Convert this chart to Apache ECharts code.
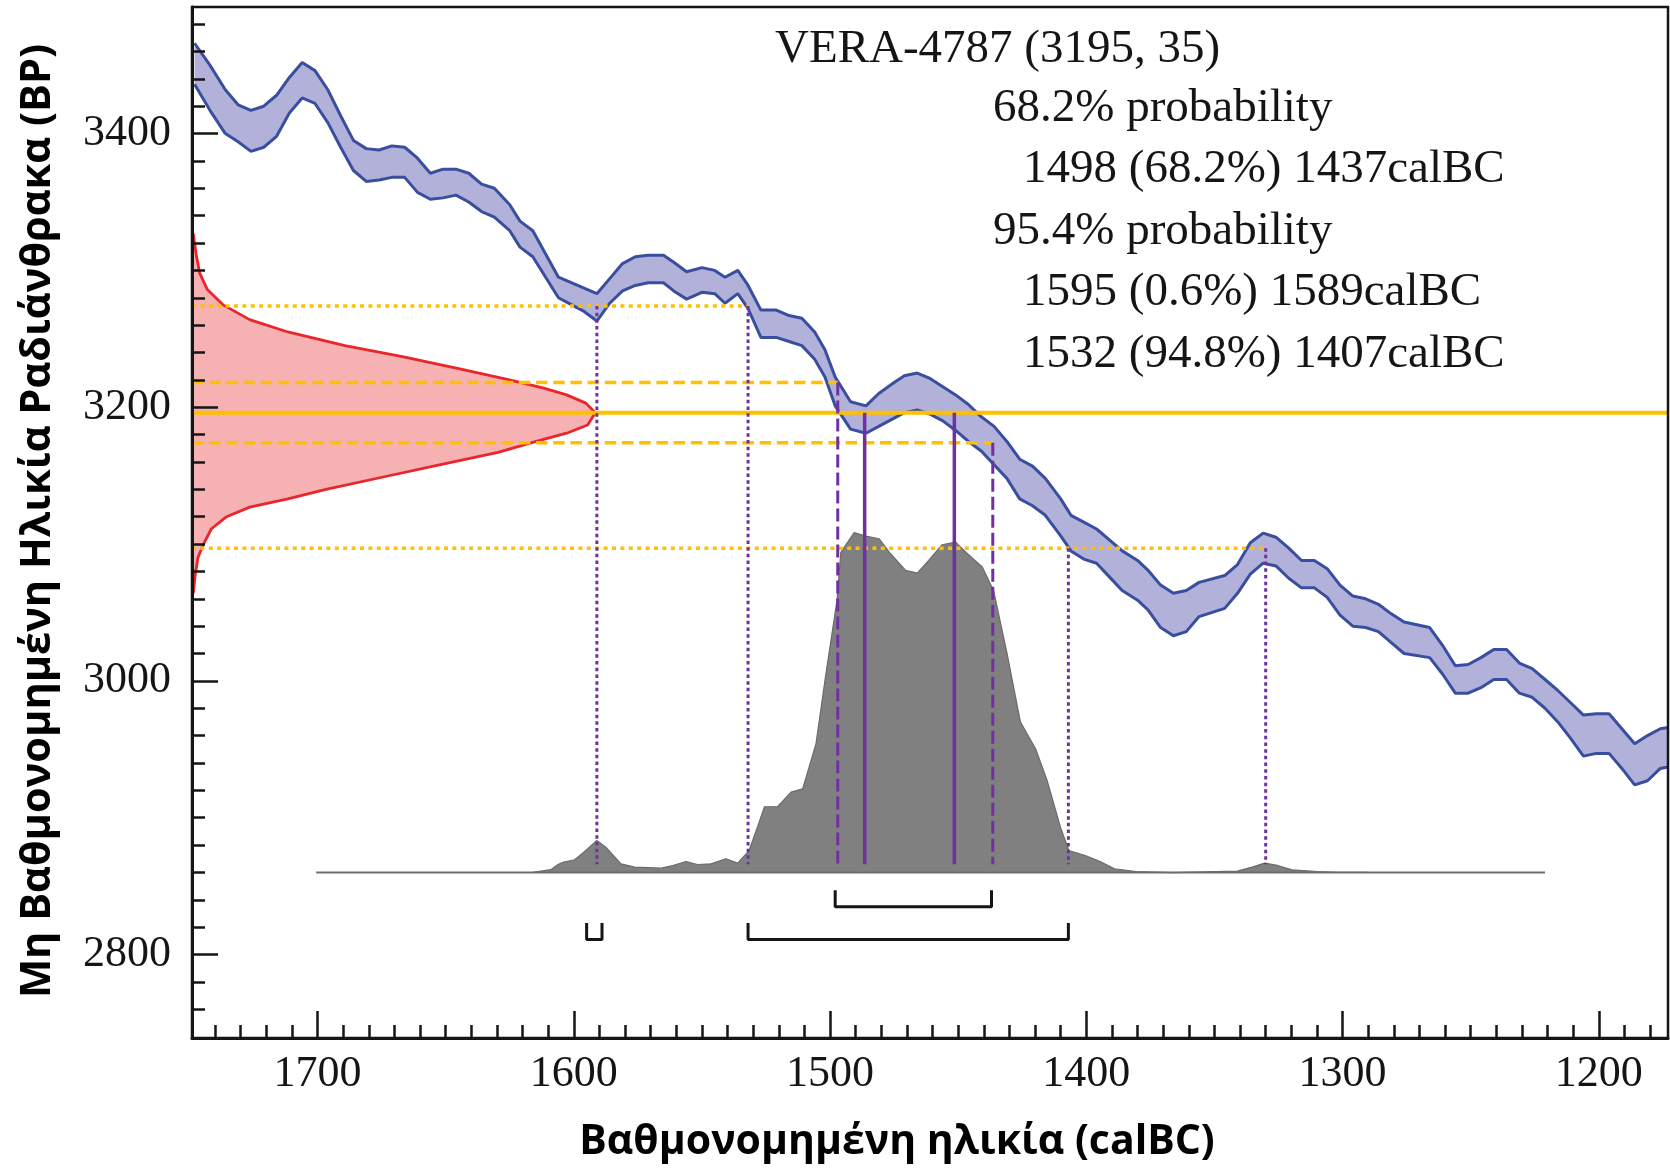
<!DOCTYPE html>
<html><head><meta charset="utf-8">
<script src="https://cdn.jsdelivr.net/npm/echarts@6/dist/echarts.min.js"></script>
<style>html,body{margin:0;padding:0;background:#fff}#c{width:1670px;height:1168px}</style>
</head><body><div id="c"></div>
<script>
// ---- calibration curve (IntCal band), calBC vs BP ----
const calYears = [1748,1742,1736,1731,1726,1721,1716,1711,1706,1701,1696,1691,1686,1681,1676,1671,1666,1661,1656,1651,1646,1641,1636,1631,1625,1621,1616,1611,1606,1601,1596,1591,1586,1581,1576,1571,1565,1561,1556,1550,1545,1541,1536,1532,1527,1521,1516,1511,1506,1502,1498,1492,1486,1481,1475,1471,1466,1461,1456,1451,1446,1441,1436,1431,1426,1421,1416,1410,1406,1401,1396,1391,1386,1380,1376,1371,1366,1361,1356,1346,1341,1336,1331,1326,1321,1316,1311,1306,1301,1296,1291,1286,1281,1276,1266,1261,1256,1251,1246,1241,1236,1231,1226,1221,1216,1211,1206,1201,1196,1191,1186,1181,1176,1173];
const curveUpper = [3466,3450,3432,3421,3417,3420,3428,3441,3452,3446,3432,3413,3395,3389,3388,3391,3390,3382,3371,3374,3374,3371,3363,3360,3348,3336,3329,3312,3295,3291,3287,3283,3294,3305,3310,3311,3311,3306,3299,3302,3300,3295,3300,3289,3271,3271,3267,3265,3255,3242,3222,3204,3201,3210,3218,3223,3225,3221,3215,3209,3202,3193,3186,3175,3162,3157,3148,3133,3121,3116,3111,3103,3095,3088,3081,3070,3064,3066,3072,3077,3085,3101,3108,3105,3097,3088,3088,3082,3070,3062,3060,3056,3049,3043,3039,3026,3011,3012,3017,3023,3023,3013,3009,3001,2993,2984,2975,2976,2976,2965,2954,2960,2965,2966];
const curveLower = [3436,3417,3400,3394,3387,3390,3398,3415,3426,3422,3408,3390,3373,3365,3366,3368,3368,3357,3352,3353,3355,3350,3343,3339,3329,3317,3310,3295,3280,3275,3270,3263,3276,3285,3289,3291,3291,3285,3279,3284,3283,3276,3283,3272,3251,3251,3248,3245,3235,3222,3201,3184,3181,3186,3192,3196,3198,3195,3190,3183,3175,3168,3158,3148,3133,3128,3121,3106,3095,3089,3086,3076,3066,3059,3052,3039,3033,3036,3047,3053,3064,3078,3086,3084,3075,3068,3068,3061,3048,3040,3039,3036,3028,3020,3017,3005,2991,2991,2995,3001,3001,2991,2988,2980,2970,2958,2945,2947,2947,2936,2924,2927,2936,2937];

// ---- radiocarbon measurement distribution (red) : x = calBC-scale extent, y = BP ----
const distYear = [1748.5,1747.4,1746,1743,1737,1726.5,1711.6,1689.3,1666.9,1644.5,1625.1,1611.7,1602.8,1595.3,1591.6,1594.6,1602.8,1614.7,1629.6,1652,1674.4,1696.7,1711.6,1726.5,1735.5,1741.5,1744.5,1746.7,1747.7,1748.5];
const distBP   = [3327,3312,3298,3286,3275,3264,3255,3245,3237,3228,3220,3214,3209,3203,3196,3187,3181,3175,3167,3158,3149,3140,3133,3127,3120,3111,3100,3090,3078,3064];

// ---- calibrated probability distribution (grey) ----
const postYear = [1616,1609,1606,1604,1601,1599.8,1596,1591,1587.5,1581.6,1576.3,1565.9,1561.4,1556.2,1551.7,1546.5,1540.6,1536.1,1531.6,1527.9,1525.6,1520.4,1515.2,1510.7,1505.5,1501.8,1497.3,1495.8,1490.6,1486.1,1480.9,1476.4,1470.5,1466,1461.5,1456.3,1451,1446.6,1440.6,1436.2,1430.9,1425.7,1419.8,1415.3,1410.1,1406.8,1400.4,1394.6,1389,1380.6,1366.5,1341,1335.3,1330.4,1325.4,1319.7,1309.8,1301.3,1290];
const postBP   = [2860,2862,2866,2867.5,2868.7,2869.2,2875,2883.4,2878.5,2866.3,2863.9,2863.1,2865.1,2868,2865.8,2866.3,2870,2866.8,2876,2895.5,2908,2908.2,2918.7,2921.1,2954,3002.8,3058.8,3094,3108.3,3105.8,3103.9,3092.9,3080.7,3078.8,3088,3099.5,3101.4,3093.4,3083.2,3066.1,3019.8,2969.9,2950.4,2927.2,2893.1,2876,2872.4,2868,2862.6,2860.7,2859.8,2861,2863.9,2866.8,2865.1,2861.9,2860.7,2860,2860];
const postBaselineBP = 2860;
const postBaselineYears = [1700.5, 1221];

// ---- reference levels (BP) and intersections (calBC) ----
const measuredBP = 3196;
const sigma1BP = [3218, 3174];        // dashed
const sigma1Years = [1497, 1436.5];
const sigma2BP = [3274, 3097];        // dotted
const sigma2Years = [[1591, 1532], [1407, 1330]];
const peakYears = [1486.5, 1451.5];   // solid verticals
const verticalBottomBP = 2866;

// ---- ranges (brackets) ----
const range68 = [[1498, 1437]];
const range95 = [[1595, 1589], [1532, 1407]];
const bracket68BP = [2835, 2847];
const bracket95BP = [2811, 2823];

// ---- axes ----
const xMin = 1173, xMax = 1749, yMin = 2739, yMax = 3492.5;
const xMajorTicks = [1200, 1300, 1400, 1500, 1600, 1700];
const xMinorTicks = [1180,1190,1210,1220,1230,1240,1250,1260,1270,1280,1290,1310,1320,1330,1340,1350,1360,1370,1380,1390,1410,1420,1430,1440,1450,1460,1470,1480,1490,1510,1520,1530,1540,1550,1560,1570,1580,1590,1610,1620,1630,1640,1650,1660,1670,1680,1690,1710,1720,1730,1740];
const yMajorTicks = [2800, 3000, 3200, 3400];
const yMinorTicks = [2760,2780,2820,2840,2860,2880,2900,2920,2940,2960,2980,3020,3040,3060,3080,3100,3120,3140,3160,3180,3220,3240,3260,3280,3300,3320,3340,3360,3380,3420,3440,3460,3480];

const annotLines = ['VERA-4787 (3195, 35)', '68.2% probability', '1498 (68.2%) 1437calBC', '95.4% probability', '1595 (0.6%) 1589calBC', '1532 (94.8%) 1407calBC'];
const xTitle = 'Βαθμονομημένη ηλικία (calBC)';
const yTitle = 'Μη Βαθμονομημένη Ηλικία Ραδιάνθρακα (BP)';

// ---------------------------------------------------------------
const C = {
  bandFill: '#b1b1da', bandLine: '#3a4ea0', red: '#e8262b', pink: '#f6b1b3',
  yellow: '#ffc000', purple: '#7030a0', grey: '#808080', greyLine: '#5c5c5c', ink: '#151515'
};
const zip = (xs, ys) => xs.map((x, i) => [x, ys[i]]);
const lineS = (name, pts, color, width, type, z) => ({
  type: 'line', name, data: pts, symbol: 'none', silent: true, animation: false, z,
  lineStyle: { color, width, type, cap: 'butt' }, xAxisIndex: 0, yAxisIndex: 0
});
const polyS = (name, xs, ys, fill, z) => ({
  type: 'custom', name, coordinateSystem: 'cartesian2d', silent: true, animation: false, z,
  xAxisIndex: 0, yAxisIndex: 0,
  data: [[xs[0], ys[0]]],
  renderItem: (params, api) => ({
    type: 'polygon',
    shape: { points: xs.map((x, i) => api.coord([x, ys[i]])) },
    style: { fill: fill }
  })
});

const series = [];
// band
series.push(polyS('band', calYears.concat(calYears.slice().reverse()), curveUpper.concat(curveLower.slice().reverse()), C.bandFill, 1));
series.push(lineS('upper', zip(calYears, curveUpper), C.bandLine, 3, 'solid', 2));
series.push(lineS('lower', zip(calYears, curveLower), C.bandLine, 3, 'solid', 2));
// red distribution
series.push(polyS('distFill', distYear, distBP, C.pink, 1));
series.push(lineS('dist', zip(distYear, distBP), C.red, 2.8, 'solid', 2));
// grey posterior
series.push(polyS('postFill', postYear, postBP, C.grey, 1));
series.push(lineS('post', zip(postYear, postBP), '#6a6a6a', 1.2, 'solid', 2));
series.push(lineS('baseline', postBaselineYears.map(y => [y, postBaselineBP]), '#6e6e6e', 2, 'solid', 2));
// yellow horizontals
series.push(lineS('measured', [[xMax, measuredBP], [xMin, measuredBP]], C.yellow, 4, 'solid', 3));
sigma1BP.forEach((bp, i) => series.push(lineS('s1h' + i, [[xMax, bp], [sigma1Years[i], bp]], C.yellow, 3.5, [11.5, 5.7], 3)));
sigma2BP.forEach((bp, i) => series.push(lineS('s2h' + i, [[xMax, bp], [sigma2Years[i][1], bp]], C.yellow, 3.5, [4, 4.4], 3)));
// purple verticals
sigma1Years.forEach((yr, i) => series.push(lineS('s1v' + i, [[yr, sigma1BP[i]], [yr, verticalBottomBP]], C.purple, 3, [13, 5], 4)));
sigma2Years.forEach((pair, i) => pair.forEach((yr, j) => series.push(lineS('s2v' + i + j, [[yr, sigma2BP[i]], [yr, verticalBottomBP]], C.purple, 3, [3.5, 3.2], 4))));
peakYears.forEach((yr, i) => series.push(lineS('pk' + i, [[yr, measuredBP], [yr, verticalBottomBP]], C.purple, 3.5, 'solid', 4)));
// brackets
const bracket = (r, lv) => [[r[0], lv[1]], [r[0], lv[0]], [r[1], lv[0]], [r[1], lv[1]]];
range68.forEach((r, i) => series.push(lineS('r68' + i, bracket(r, bracket68BP), C.ink, 3, 'solid', 4)));
range95.forEach((r, i) => series.push(lineS('r95' + i, bracket(r, bracket95BP), C.ink, 3, 'solid', 4)));

const serif = '"Liberation Serif", "Times New Roman", serif';
const axisLineStyle = { color: C.ink, width: 3 };
const tickStyle = { color: C.ink, width: 2.5 };
const plainNum = v => String(v);

const annotY = [50, 109, 170, 232, 293, 355];
const annotX = [775, 993, 1023, 993, 1023, 1023];

const option = {
  animation: false,
  backgroundColor: '#ffffff',
  grid: { left: 192, right: 2, top: 7, bottom: 130, show: true, borderColor: C.ink, borderWidth: 2.5, z: 10 },
  xAxis: [
    { type: 'value', inverse: true, min: xMin, max: xMax, position: 'bottom', z: 10,
      axisLine: { show: true, onZero: false, lineStyle: axisLineStyle },
      axisTick: { show: true, inside: true, length: 27, lineStyle: tickStyle, customValues: xMajorTicks },
      axisLabel: { show: true, customValues: xMajorTicks, formatter: plainNum, fontFamily: serif, fontSize: 44, color: C.ink, margin: 14 },
      splitLine: { show: false } },
    { type: 'value', inverse: true, min: xMin, max: xMax, position: 'bottom', z: 10,
      axisLine: { show: false, onZero: false },
      axisTick: { show: true, inside: true, length: 13, lineStyle: tickStyle, customValues: xMinorTicks },
      axisLabel: { show: false }, splitLine: { show: false } }
  ],
  yAxis: [
    { type: 'value', min: yMin, max: yMax, position: 'left', z: 10,
      axisLine: { show: true, onZero: false, lineStyle: axisLineStyle },
      axisTick: { show: true, inside: true, length: 26, lineStyle: tickStyle, customValues: yMajorTicks },
      axisLabel: { show: true, customValues: yMajorTicks, formatter: plainNum, fontFamily: serif, fontSize: 44, color: C.ink, margin: 21 },
      splitLine: { show: false } },
    { type: 'value', min: yMin, max: yMax, position: 'left', z: 10,
      axisLine: { show: false, onZero: false },
      axisTick: { show: true, inside: true, length: 13, lineStyle: tickStyle, customValues: yMinorTicks },
      axisLabel: { show: false }, splitLine: { show: false } }
  ],
  series: series,
  graphic: annotLines.map((t, i) => ({
    type: 'text', x: annotX[i], y: annotY[i], silent: true, z: 20,
    style: { text: t, fill: C.ink, font: '47px ' + serif, align: 'left', verticalAlign: 'middle' }
  })).concat([
    { type: 'text', x: 897, y: 1142, silent: true, z: 20,
      style: { text: xTitle, fill: '#000', font: 'bold 41px "Open Sans", "Noto Sans", sans-serif', align: 'center', verticalAlign: 'middle' } },
    { type: 'text', x: 38, y: 521, rotation: Math.PI / 2, silent: true, z: 20,
      style: { text: yTitle, fill: '#000', font: 'bold 41.5px "Open Sans", "Noto Sans", sans-serif', align: 'center', verticalAlign: 'middle' } }
  ])
};

const chart = echarts.init(document.getElementById('c'), null, { renderer: 'canvas' });
chart.setOption(option);
</script>
</body></html>
